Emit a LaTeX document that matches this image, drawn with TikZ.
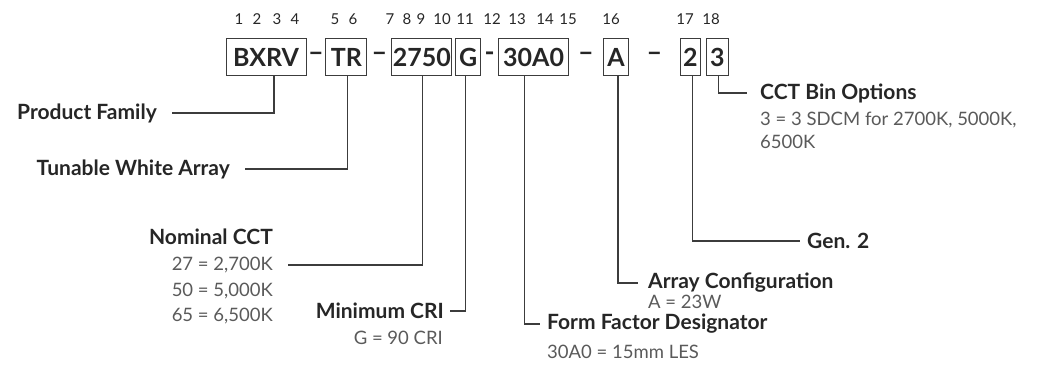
\documentclass[tikz,border=0pt]{standalone}
\usepackage{fontspec}
\setmainfont{Lato}
\usepackage{tikz}
\usetikzlibrary{positioning, calc}

\definecolor{ink}{HTML}{262626}
\definecolor{soft}{HTML}{5A5A5A}
\definecolor{rule}{HTML}{3C3C3C}

\tikzset{
  code/.style={draw=rule, line width=0.9pt, minimum height=37pt, inner sep=0pt,
    text=ink, font=\bfseries\fontsize{25}{25}\selectfont},
  sep/.style={text=ink, inner sep=0pt, font=\bfseries\fontsize{27}{27}\selectfont},
  digit/.style={anchor=base, text=ink, inner sep=0pt, font=\fontsize{15}{15}\selectfont},
  title/.style={text=ink, inner ysep=0pt, font=\bfseries\fontsize{21}{21}\selectfont},
  note/.style={text=soft, inner ysep=0pt, font=\fontsize{18.5}{18.5}\selectfont},
  lead/.style={draw=rule, line width=1.1pt}
}

\begin{document}
\begin{tikzpicture}[x=1pt, y=-1pt]
\useasboundingbox (0,0) rectangle (1053,371);

% Code boxes
\node[code, minimum width=80pt] (bxrv) at (266,57) {BXRV};
\node[code, minimum width=41pt, right=19pt of bxrv] (tr) {TR};
\node[code, minimum width=60pt, right=24pt of tr] (cct) {2750};
\node[code, minimum width=25pt, right=3pt of cct] (cri) {G};
\node[code, minimum width=70pt, right=17pt of cri] (form) {30A0};
\node[code, minimum width=25pt, right=34pt of form] (arr) {A};
\node[code, minimum width=20pt, right=51pt of arr] (gen) {2};
\node[code, minimum width=22pt, right=5pt of gen] (bin) {3};

% Dashes
\node[sep] (d1) at ($(bxrv.east)!.5!(tr.west)$) {–};
\node[sep] (d2) at ($(tr.east)!.5!(cct.west)$) {–};
\node[sep] (d3) at ($(cri.east)!.5!(form.west)$) {-};
\node[sep] (d4) at ($(form.east)!.5!(arr.west)$) {–};
\node[sep] (d5) at ($(arr.east)!.5!(gen.west)$) {–};

% Position numbers
\foreach \n/\x in {1/239, 2/257, 3/277, 4/295, 5/335, 6/353, 7/390, 8/407, 9/421,
  10/442, 11/465, 12/492, 13/517, 14/545, 15/568, 16/611, 17/685, 18/711}
  \node[digit] (p\n) at (\x,25) {\n};

% Labels left
\node[title, anchor=east, inner xsep=15pt] (pfam) at (172,113) {Product Family};
\node[title, anchor=east, inner xsep=15pt] (tune) at (245,169) {Tunable White Array};
\node[title, anchor=east, inner xsep=15pt] (ncct) at (288,237) {Nominal CCT};
\node[note, anchor=east, inner xsep=15pt] (cct27) at (288,265) {27 = 2,700K};
\node[note, anchor=east, inner xsep=15pt] (cct50) at (288,291) {50 = 5,000K};
\node[note, anchor=east, inner xsep=15pt] (cct65) at (288,316) {65 = 6,500K};
\node[title, anchor=east, inner xsep=6pt] (mcri) at (450,311) {Minimum CRI};
\node[note, anchor=east, inner xsep=0pt] (g90) at (443,338) {G = 90 CRI};

% Labels right
\node[title, anchor=west, inner xsep=7pt] (ffd) at (540,324) {Form Factor Designator};
\node[note, anchor=west, inner xsep=0pt] (les) at (547,352) {30A0 = 15mm LES};
\node[title, anchor=west, inner xsep=10pt] (acfg) at (638,283) {Array Configuration};
\node[note, anchor=west, inner xsep=0pt] (w23) at (648,302) {A = 23W};
\node[title, anchor=west, inner xsep=7pt] (gen2) at (800,241) {Gen. 2};
\node[title, anchor=west, inner xsep=13pt] (cbo) at (747,93) {CCT Bin Options};
\node[note, anchor=west, inner xsep=0pt] (sdcm) at (760,120) {3 = 3 SDCM for 2700K, 5000K,};
\node[note, anchor=west, inner xsep=0pt] (k65) at (760,142) {6500K};

% Leader lines
\draw[lead] ([xshift=8pt]bxrv.south) |- (pfam.east);
\draw[lead] ([xshift=1.5pt]tr.south) |- (tune.east);
\draw[lead] ([xshift=1pt]cct.south) |- (cct27.east);
\draw[lead] ([xshift=-2.5pt]cri.south) |- (mcri.east);
\draw[lead] ([xshift=-9pt]form.south) |- (ffd.west);
\draw[lead] ([xshift=2pt]arr.south) |- (acfg.west);
\draw[lead] ([xshift=2pt]gen.south) |- (gen2.west);
\draw[lead] ([xshift=1pt]bin.south) |- (cbo.west);
\end{tikzpicture}
\end{document}
